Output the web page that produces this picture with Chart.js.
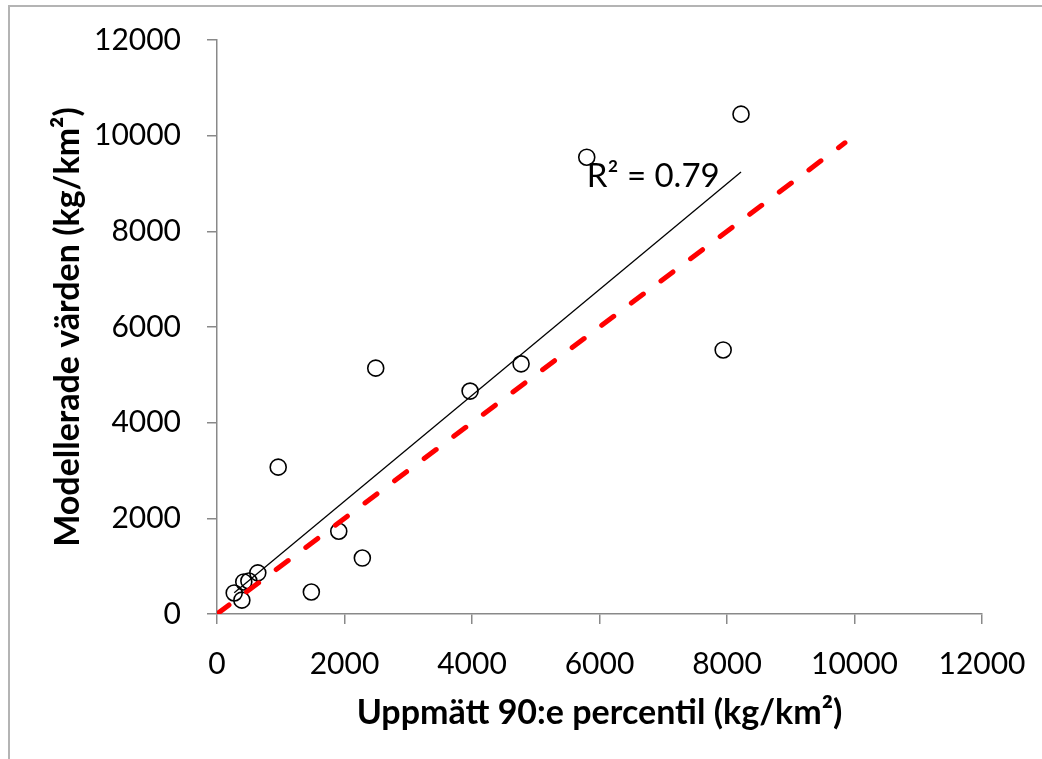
<!DOCTYPE html>
<html>
<head>
<meta charset="utf-8">
<script src="https://cdn.jsdelivr.net/npm/chart.js@4"></script>
<style>
  body { margin: 0; background: #fff; }
  #wrap { position: relative; width: 1042px; height: 759px; overflow: hidden; }
  #frame { position: absolute; left: 8px; top: 5px; width: 1100px; height: 800px;
           border-left: 2px solid #b4b4b4; border-top: 2px solid #b4b4b4; }
  canvas { position: absolute; left: 0; top: 0; }
</style>
</head>
<body>
<div id="wrap">
  <div id="frame"></div>
  <canvas id="chart" width="1042" height="759"></canvas>
</div>
<script>
// measured 90th percentile (x) vs modelled values (y), kg/km2
const measured = [8220, 5800, 7940, 2490, 3970, 4770, 960, 1910, 2280, 1480, 270, 390, 420, 500, 640];
const modelled = [10450, 9550, 5520, 5140, 4660, 5230, 3070, 1730, 1170, 460, 440, 290, 670, 690, 860];

// fitted trend line end points and 1:1 line
const trendX = [270, 8220];
const trendY = [445, 9240];
const oneToOne = [0, 9850];

const axisTicks = [0, 2000, 4000, 6000, 8000, 10000, 12000];
const r2Label = 'R² = 0.79';
const r2Pos = [5800, 8930];

const FONT = 'Lato, "Open Sans", sans-serif';
const axisGrey = '#898989';

const points = measured.map((x, i) => ({ x: x, y: modelled[i] }));
const trend = trendX.map((x, i) => ({ x: x, y: trendY[i] }));
const diag = oneToOne.map(v => ({ x: v, y: v }));

const r2Plugin = {
  id: 'r2text',
  afterDatasetsDraw(chart) {
    const ctx = chart.ctx;
    const x = chart.scales.x.getPixelForValue(r2Pos[0]);
    const y = chart.scales.y.getPixelForValue(r2Pos[1]);
    ctx.save();
    ctx.font = '33px ' + FONT;
    ctx.fillStyle = '#000';
    ctx.textBaseline = 'alphabetic';
    ctx.fillText(r2Label, x, y);
    ctx.restore();
  }
};

const scaleBase = {
  type: 'linear',
  min: 0,
  max: 12000,
  afterBuildTicks: (scale) => { scale.ticks = axisTicks.map(v => ({ value: v })); },
  grid: { display: true, drawOnChartArea: false, drawTicks: true, tickLength: 10, color: axisGrey, lineWidth: 1.5 },
  border: { color: axisGrey, width: 1.5 }
};

new Chart(document.getElementById('chart'), {
  type: 'scatter',
  data: {
    datasets: [
      {
        label: '1:1',
        data: diag,
        showLine: true,
        borderColor: '#ff0000',
        borderWidth: 5,
        borderDash: [15, 22],
        borderCapStyle: 'round',
        pointRadius: 0,
        fill: false
      },
      {
        label: 'trend',
        data: trend,
        showLine: true,
        borderColor: '#000',
        borderWidth: 1.3,
        pointRadius: 0,
        fill: false
      },
      {
        label: 'stations',
        data: points,
        pointRadius: 8,
        pointBorderWidth: 1.6,
        pointBorderColor: '#000',
        pointBackgroundColor: 'rgba(255,255,255,0)',
        showLine: false
      }
    ]
  },
  options: {
    responsive: false,
    animation: false,
    layout: { padding: { left: 0, top: 40, right: 60, bottom: 0 } },
    plugins: { legend: { display: false }, tooltip: { enabled: false } },
    scales: {
      x: Object.assign({}, scaleBase, {
        position: 'bottom',
        afterFit: (scale) => { scale.height = 145; scale.paddingLeft = 0; scale.paddingRight = 0; },
        ticks: { color: '#000', font: { family: FONT, size: 30 }, padding: 22, maxRotation: 0,
                 callback: (v) => String(v) },
        title: { display: true, text: 'Uppmätt 90:e percentil (kg/km²)', color: '#000',
                 font: { family: FONT, size: 34, weight: 'bold' }, padding: { top: 0, bottom: 26 } }
      }),
      y: Object.assign({}, scaleBase, {
        position: 'left',
        afterFit: (scale) => { scale.width = 217; scale.paddingTop = 0; scale.paddingBottom = 0; },
        ticks: { color: '#000', font: { family: FONT, size: 30 }, padding: 26,
                 callback: (v) => String(v) },
        title: { display: true, text: 'Modellerade värden (kg/km²)', color: '#000',
                 font: { family: FONT, size: 34, weight: 'bold' }, padding: { top: 48, bottom: 0 } }
      })
    }
  },
  plugins: [r2Plugin]
});
</script>
</body>
</html>
